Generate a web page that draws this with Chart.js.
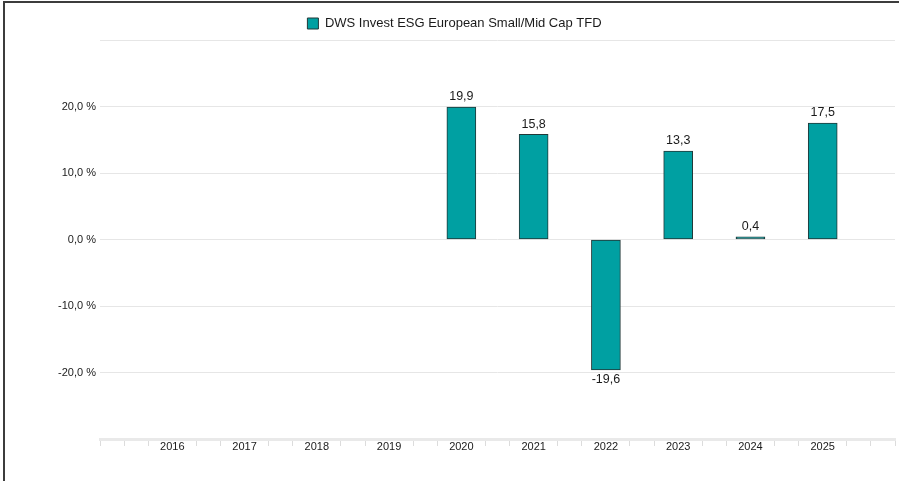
<!DOCTYPE html>
<html>
<head>
<meta charset="utf-8">
<script src="https://cdn.jsdelivr.net/npm/chart.js@4"></script>
<style>
  html, body { margin: 0; padding: 0; background: #fff; }
  #wrap { position: relative; width: 899px; height: 481px; }
  #frame { position: absolute; left: 3px; top: 1px; width: 896px; height: 480px;
           border-left: 2px solid #3c3c3c; border-top: 2px solid #3c3c3c; pointer-events: none; }
  canvas { position: absolute; left: 0; top: 0; }
</style>
</head>
<body>
<div id="wrap">
  <canvas id="perfChart" width="899" height="481"></canvas>
  <div id="frame"></div>
</div>
<script>
// Annual performance per calendar year (%), no values before 2020
const years = [2016, 2017, 2018, 2019, 2020, 2021, 2022, 2023, 2024, 2025];
const returns = [null, null, null, null, 19.9, 15.8, -19.6, 13.3, 0.4, 17.5];
const yTicks = [-20, -10, 0, 10, 20];
const seriesName = 'DWS Invest ESG European Small/Mid Cap TFD';

const fmt = v => v.toFixed(1).replace('.', ',');

// Value labels above / below each bar
const valueLabels = {
    id: 'valueLabels',
    afterDatasetsDraw(chart) {
        const ctx = chart.ctx;
        const meta = chart.getDatasetMeta(0);
        ctx.save();
        ctx.font = '12.5px "Liberation Sans", Arial, sans-serif';
        ctx.fillStyle = '#1a1a1a';
        ctx.textAlign = 'center';
        meta.data.forEach((bar, i) => {
            const v = returns[i];
            if (v === null) return;
            if (v >= 0) {
                ctx.textBaseline = 'bottom';
                ctx.fillText(fmt(v), bar.x, bar.y - 4);
            } else {
                ctx.textBaseline = 'top';
                ctx.fillText(fmt(v), bar.x, bar.y + 3);
            }
        });
        ctx.restore();
    }
};

const isYearTick = v => Math.abs(v - Math.round(v)) < 1e-6 && Math.round(v) >= 2016 && Math.round(v) <= 2025;

new Chart(document.getElementById('perfChart').getContext('2d'), {
    type: 'bar',
    data: {
        datasets: [{
            label: seriesName,
            data: years.map((y, i) => ({ x: y, y: returns[i] })),
            backgroundColor: '#00a0a2',
            borderColor: '#213838',
            borderWidth: 1,
            borderSkipped: false,
            barThickness: 29
        }]
    },
    options: {
        responsive: false,
        animation: false,
        layout: { padding: { top: 7, right: 4, left: 14, bottom: 0 } },
        plugins: {
            legend: {
                position: 'top',
                labels: {
                    color: '#1a1a1a',
                    font: { size: 13, family: '"Liberation Sans", Arial, sans-serif' },
                    boxWidth: 11,
                    boxHeight: 11,
                    padding: 10
                }
            },
            tooltip: { enabled: false }
        },
        scales: {
            x: {
                type: 'linear',
                offset: false,
                min: 2015,
                max: 2026,
                grid: {
                    offset: false,
                    drawOnChartArea: false,
                    drawTicks: true,
                    tickLength: 7,
                    tickColor: c => (c.tick && isYearTick(c.tick.value)) ? 'rgba(0,0,0,0)' : '#dcdcdc'
                },
                border: { color: '#e9e9e9', width: 3 },
                ticks: {
                    stepSize: 1 / 3,
                    autoSkip: false,
                    maxRotation: 0,
                    padding: -6,
                    color: '#1a1a1a',
                    font: { size: 11, family: '"Liberation Sans", Arial, sans-serif' },
                    callback: v => isYearTick(v) ? String(Math.round(v)) : ''
                },
                afterFit: s => { s.height = 42; }
            },
            y: {
                min: -30,
                max: 30,
                afterBuildTicks: s => { s.ticks = [-30, ...yTicks, 30].map(v => ({ value: v })); },
                grid: { color: '#e6e6e6', lineWidth: 1, drawTicks: false },
                border: { display: false },
                ticks: {
                    padding: 4,
                    color: '#1a1a1a',
                    font: { size: 11, family: '"Liberation Sans", Arial, sans-serif' },
                    callback: v => yTicks.includes(v) ? fmt(v) + ' %' : ''
                },
                afterFit: s => { s.width = 86; }
            }
        }
    },
    plugins: [valueLabels]
});
</script>
</body>
</html>
